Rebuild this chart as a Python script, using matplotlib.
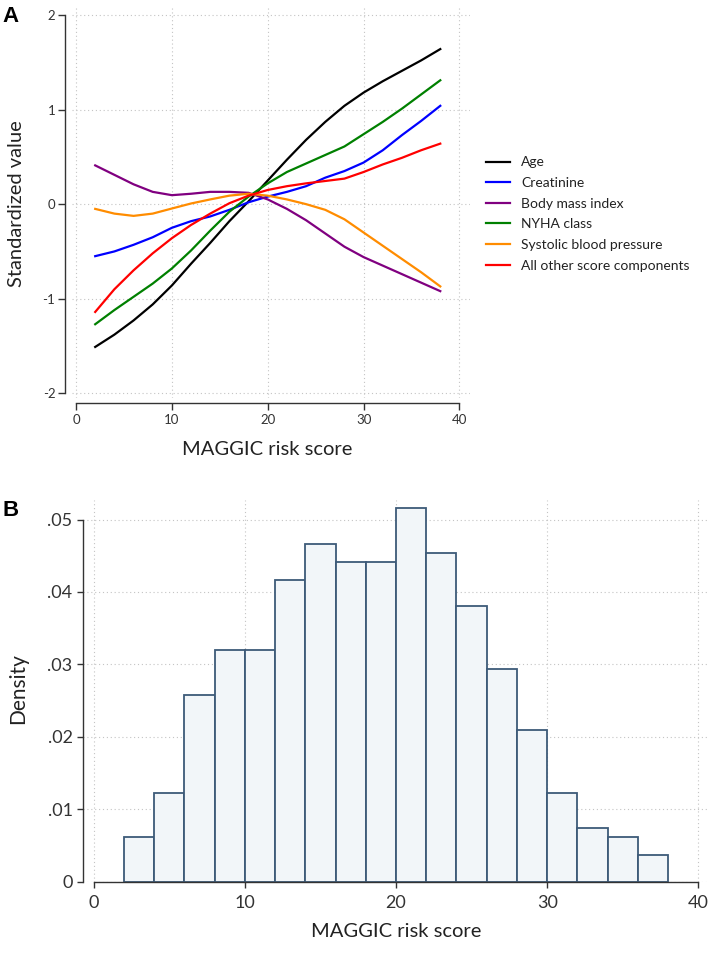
import numpy as np
import matplotlib
matplotlib.use("Agg")
import matplotlib.pyplot as plt

plt.rcParams['font.family'] = ['Lato', 'DejaVu Sans']
plt.rcParams['axes.unicode_minus'] = False

# Panel A: smoothed standardized components vs MAGGIC score
score = [2, 4, 6, 8, 10, 12, 14, 16, 18, 20, 22, 24, 26, 28, 30, 32, 34, 36, 38]
age = [-1.51, -1.38, -1.23, -1.06, -0.86, -0.63, -0.41, -0.18, 0.03, 0.25,
       0.47, 0.68, 0.87, 1.04, 1.18, 1.30, 1.41, 1.52, 1.64]
creatinine = [-0.55, -0.50, -0.43, -0.35, -0.25, -0.18, -0.13, -0.06, 0.02, 0.08,
              0.13, 0.19, 0.28, 0.35, 0.44, 0.57, 0.73, 0.88, 1.04]
bmi = [0.41, 0.31, 0.21, 0.13, 0.095, 0.11, 0.13, 0.13, 0.12, 0.05,
       -0.05, -0.17, -0.31, -0.45, -0.56, -0.65, -0.74, -0.83, -0.92]
nyha = [-1.27, -1.12, -0.98, -0.84, -0.68, -0.49, -0.28, -0.08, 0.08, 0.22,
        0.34, 0.43, 0.52, 0.61, 0.74, 0.87, 1.01, 1.16, 1.31]
sbp = [-0.05, -0.10, -0.124, -0.10, -0.046, 0.007, 0.05, 0.09, 0.11, 0.09,
       0.05, 0.0, -0.06, -0.16, -0.30, -0.44, -0.58, -0.72, -0.87]
other = [-1.14, -0.90, -0.70, -0.52, -0.36, -0.22, -0.10, 0.01, 0.09, 0.15,
         0.19, 0.22, 0.245, 0.27, 0.34, 0.42, 0.49, 0.57, 0.64]

series = [
    ("Age", age, "black"),
    ("Creatinine", creatinine, "#0000ff"),
    ("Body mass index", bmi, "#800080"),
    ("NYHA class", nyha, "#008000"),
    ("Systolic blood pressure", sbp, "#ff8c00"),
    ("All other score components", other, "#ff0000"),
]

# Panel B: histogram of the score (bin edges + density per bin)
bin_edges = [2, 4, 6, 8, 10, 12, 14, 16, 18, 20, 22, 24, 26, 28, 30, 32, 34, 36, 38]
density = [0.0062, 0.0123, 0.0258, 0.0320, 0.0320, 0.0417, 0.0466, 0.0442, 0.0442,
           0.0516, 0.0454, 0.0380, 0.0294, 0.0209, 0.0123, 0.0074, 0.0062, 0.0037]

W, H = 709, 956
fig = plt.figure(figsize=(W / 100, H / 100), dpi=100)

grid_kw = dict(color="#c4c4c4", linestyle=(0, (1, 2.5)), linewidth=0.8)
txt = "#222222"

# ---- Panel A ----
axA = fig.add_axes([72 / W, 1 - 398 / H, 398 / W, 391 / H])
for name, vals, col in series:
    axA.plot(score, vals, color=col, lw=1.6, label=name)
axA.set_xlim(-0.42, 41.1)
axA.set_ylim(-2.05, 2.085)
axA.set_xticks([0, 10, 20, 30, 40])
axA.set_yticks([-2, -1, 0, 1, 2])
axA.set_yticklabels(["-2", "-1", "0", "1", "2"])
axA.grid(True, **grid_kw)
axA.set_axisbelow(True)
for s in ["top", "right"]:
    axA.spines[s].set_visible(False)
axA.spines["left"].set_position(("outward", 5))
axA.spines["bottom"].set_position(("outward", 3.6))
axA.spines["left"].set_bounds(-2, 2)
axA.spines["bottom"].set_bounds(0, 40)
for s in ["left", "bottom"]:
    axA.spines[s].set_color("#333333")
    axA.spines[s].set_linewidth(1.0)
axA.tick_params(axis="both", length=5, width=1.0, color="#333333",
                labelsize=9.5, labelcolor="#333333", pad=2)
axA.tick_params(axis="x", pad=3)
axA.set_xlabel("MAGGIC risk score", fontsize=14.5, color=txt)
axA.xaxis.set_label_coords(0.491, -0.11)
axA.set_ylabel("Standardized value", fontsize=14.5, color=txt)
axA.yaxis.set_label_coords(-0.118, 0.497)

fig.legend(loc="center left", bbox_to_anchor=(486 / W, 1 - 214 / H), frameon=False,
           fontsize=10, handlelength=1.75, handletextpad=0.8, labelspacing=0.62,
           borderpad=0, borderaxespad=0, labelcolor=txt)

# ---- Panel B ----
axB = fig.add_axes([83 / W, 1 - 881.7 / H, 626 / W, 381.7 / H])
edges = np.array(bin_edges)
axB.bar(edges[:-1], density, width=np.diff(edges), align="edge", color="#f2f6f9",
        edgecolor="#3d5a78", linewidth=1.3)
axB.set_xlim(-0.7, 40.7)
axB.set_ylim(0, 0.0527)
axB.set_xticks([0, 10, 20, 30, 40])
axB.set_yticks([0, 0.01, 0.02, 0.03, 0.04, 0.05])
axB.set_yticklabels(["0", ".01", ".02", ".03", ".04", ".05"])
axB.grid(True, **grid_kw)
axB.set_axisbelow(True)
for s in ["top", "right"]:
    axB.spines[s].set_visible(False)
axB.spines["left"].set_bounds(0, 0.05)
axB.spines["bottom"].set_bounds(0, 40)
for s in ["left", "bottom"]:
    axB.spines[s].set_color("#333333")
    axB.spines[s].set_linewidth(1.0)
axB.tick_params(axis="both", length=4.5, width=1.0, color="#333333",
                labelsize=13, labelcolor="#333333", pad=3)
axB.tick_params(axis="x", pad=5)
axB.set_xlabel("MAGGIC risk score", fontsize=14.5, color=txt)
axB.xaxis.set_label_coords(0.5, -0.108)
axB.set_ylabel("Density", fontsize=15, color=txt)
axB.yaxis.set_label_coords(-0.088, 0.507)

fig.text(2 / W, 1 - 17 / H, "A", fontsize=16, fontweight="bold", va="center", ha="left",
         family=["Liberation Sans", "DejaVu Sans"])
fig.text(2 / W, 1 - 510 / H, "B", fontsize=16, fontweight="bold", va="center", ha="left",
         family=["Liberation Sans", "DejaVu Sans"])

fig.savefig("out.png", dpi=100)
